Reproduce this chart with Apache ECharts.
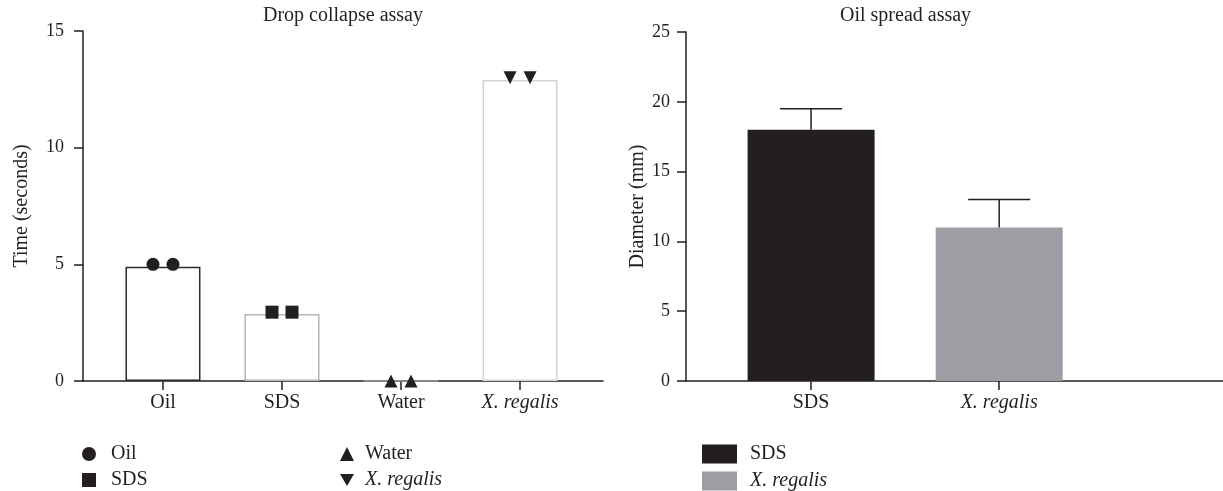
<!DOCTYPE html>
<html>
<head>
<meta charset="utf-8">
<script src="https://cdn.jsdelivr.net/npm/echarts@6/dist/echarts.min.js"></script>
<style>
html,body{margin:0;padding:0;background:#fff;}
#c{width:1223px;height:491px;}
</style>
</head>
<body>
<div id="c"></div>
<script>
// ---------- DATA ----------
const dropCategories = ['Oil', 'SDS', 'Water', 'X. regalis'];
const dropBarMeans = [4.9, 2.87, 0, 12.9];
const dropReplicates = [[5, 5], [2.95, 2.95], [0, 0], [13, 13]];
const dropYTicks = [0, 5, 10, 15];

const spreadCategories = ['SDS', 'X. regalis'];
const spreadMeans = [18, 11];
const spreadSD = [1.5, 2];
const spreadYTicks = [0, 5, 10, 15, 20, 25];

// ---------- STYLE ----------
const FONT = 'Liberation Serif';
const INK = '#231f20';
const TXT = 20;
const NUM = 18;
const dropBorderColors = ['#2a2a2a', '#b3b3b3', '#9a9a9a', '#d3d3d3'];
const dropSymbols = ['circle', 'rect', 'triangle', 'path://M0,0L2,0L1,1.732Z'];
const spreadColors = ['#231f20', '#9c9ea4'];

const rich = { i: { fontStyle: 'italic', fontFamily: FONT, fontSize: TXT, color: INK } };
const fmtName = n => (n === 'X. regalis' ? '{i|' + n + '}' : n);

const chart = echarts.init(document.getElementById('c'), null, { renderer: 'canvas' });

const axisLine = { show: true, onZero: false, lineStyle: { color: INK, width: 1.5 } };
const axisTick = { show: true, length: 9, lineStyle: { color: INK, width: 1.5 } };

const series = [];

// Drop collapse bars (outlined)
series.push({
  type: 'bar', name: 'dropBars', xAxisIndex: 0, yAxisIndex: 0,
  barWidth: 75, silent: true,
  data: dropBarMeans.map((v, i) => ({
    value: [i, v],
    itemStyle: { color: '#fff', borderColor: dropBorderColors[i], borderWidth: 1.5 }
  })),
  z: 2
});
// Drop collapse replicate points
dropCategories.forEach((name, i) => {
  series.push({
    type: 'scatter', name: name, xAxisIndex: 0, yAxisIndex: 0,
    symbol: dropSymbols[i], symbolSize: 13,
    itemStyle: { color: INK, opacity: 1 },
    data: dropReplicates[i].map((v, k) => ({ value: [i, v], symbolOffset: [k === 0 ? -10 : 10, 0] })),
    z: 5
  });
});

// Oil spread bars
spreadCategories.forEach((name, i) => {
  series.push({
    type: 'bar', name: 'spread ' + name, xAxisIndex: 1, yAxisIndex: 1,
    barWidth: 127, barGap: '-100%',
    itemStyle: { color: spreadColors[i] },
    data: [[i, spreadMeans[i]]],
    z: 2
  });
});
// Error bars (upper only)
series.push({
  type: 'custom', name: 'err', xAxisIndex: 1, yAxisIndex: 1, silent: true,
  data: spreadMeans.map((m, i) => [i, m, m + spreadSD[i]]),
  renderItem: (params, api) => {
    const x = api.value(0);
    const p0 = api.coord([x, api.value(1)]);
    const p1 = api.coord([x, api.value(2)]);
    const hw = 31;
    return {
      type: 'group',
      children: [
        { type: 'line', shape: { x1: p0[0], y1: p0[1], x2: p1[0], y2: p1[1] }, style: { stroke: INK, lineWidth: 1.5 } },
        { type: 'line', shape: { x1: p1[0] - hw, y1: p1[1], x2: p1[0] + hw, y2: p1[1] }, style: { stroke: INK, lineWidth: 1.5 } }
      ]
    };
  },
  z: 3
});

const legendText = (pad, lh) => ({ fontFamily: FONT, fontSize: TXT, color: INK, lineHeight: lh, padding: [0, 0, 0, pad], rich: rich });

const option = {
  backgroundColor: '#fff',
  animation: false,
  textStyle: { fontFamily: FONT, color: INK },
  title: [
    { text: 'Drop collapse assay', left: 263, top: 6, padding: 0, textStyle: { fontFamily: FONT, fontSize: TXT, fontWeight: 'normal', color: INK } },
    { text: 'Oil spread assay', left: 840, top: 6, padding: 0, textStyle: { fontFamily: FONT, fontSize: TXT, fontWeight: 'normal', color: INK } }
  ],
  grid: [
    { left: 83, right: 620, top: 31, bottom: 110, containLabel: false },
    { left: 686, right: 0, top: 32, bottom: 110, containLabel: false }
  ],
  xAxis: [
    {
      gridIndex: 0, type: 'value', min: -0.672, max: 3.697,
      splitLine: { show: false }, axisLine: axisLine,
      axisTick: Object.assign({}, axisTick, { customValues: dropCategories.map((c, i) => i) }),
      axisLabel: {
        customValues: dropCategories.map((c, i) => i), margin: 12,
        fontFamily: FONT, fontSize: TXT, color: INK,
        formatter: v => fmtName(dropCategories[Math.round(v)]), rich: rich
      }
    },
    {
      gridIndex: 1, type: 'value', min: -0.665, max: 2.19,
      splitLine: { show: false }, axisLine: axisLine,
      axisTick: Object.assign({}, axisTick, { customValues: spreadCategories.map((c, i) => i) }),
      axisLabel: {
        customValues: spreadCategories.map((c, i) => i), margin: 12,
        fontFamily: FONT, fontSize: TXT, color: INK,
        formatter: v => fmtName(spreadCategories[Math.round(v)]), rich: rich
      }
    }
  ],
  yAxis: [
    {
      gridIndex: 0, type: 'value', min: dropYTicks[0], max: dropYTicks[dropYTicks.length - 1], interval: 5,
      name: 'Time (seconds)', nameLocation: 'middle', nameGap: 51, nameRotate: 90,
      nameTextStyle: { fontFamily: FONT, fontSize: TXT, color: INK },
      splitLine: { show: false }, axisLine: axisLine, axisTick: axisTick,
      axisLabel: { margin: 19, fontFamily: FONT, fontSize: NUM, color: INK }
    },
    {
      gridIndex: 1, type: 'value', min: spreadYTicks[0], max: spreadYTicks[spreadYTicks.length - 1], interval: 5,
      name: 'Diameter (mm)', nameLocation: 'middle', nameGap: 36, nameRotate: 90,
      nameTextStyle: { fontFamily: FONT, fontSize: TXT, color: INK },
      splitLine: { show: false }, axisLine: axisLine, axisTick: axisTick,
      axisLabel: { margin: 16, fontFamily: FONT, fontSize: NUM, color: INK }
    }
  ],
  legend: [
    {
      data: ['Oil', 'SDS'].map((n, i) => ({ name: n, icon: dropSymbols[i], itemStyle: { color: INK } })),
      orient: 'vertical', left: 82, top: 444, padding: 0, height: 47,
      itemWidth: 14, itemHeight: 14, itemGap: 6, selectedMode: false,
      textStyle: legendText(10, 18), formatter: fmtName
    },
    {
      data: ['Water', 'X. regalis'].map((n, i) => ({ name: n, icon: dropSymbols[i + 2], itemStyle: { color: INK } })),
      orient: 'vertical', left: 340, top: 444, padding: 0, height: 47,
      itemWidth: 14, itemHeight: 14, itemGap: 6, selectedMode: false,
      textStyle: legendText(6, 18), formatter: fmtName
    },
    {
      data: spreadCategories.map((n, i) => ({ name: 'spread ' + n, icon: 'rect', itemStyle: { color: spreadColors[i] } })),
      orient: 'vertical', left: 702, top: 444, padding: 0, height: 47,
      itemWidth: 35, itemHeight: 19, itemGap: 7, selectedMode: false,
      textStyle: legendText(8, 19), formatter: n => fmtName(n.replace('spread ', ''))
    }
  ],
  series: series
};
chart.setOption(option);
</script>
</body>
</html>
